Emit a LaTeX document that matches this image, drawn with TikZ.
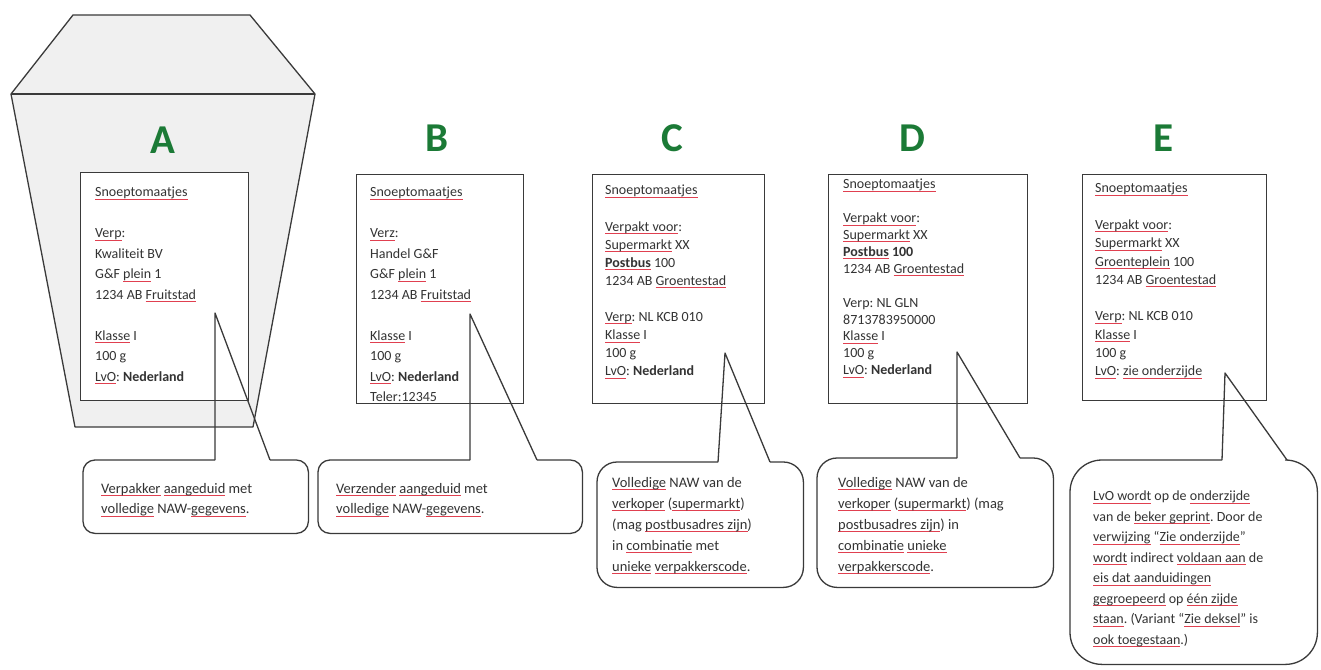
\documentclass[tikz,border=0pt]{standalone}
\usepackage{fontspec}
\setmainfont{Carlito}
\definecolor{ink}{HTML}{3A3A3A}
\definecolor{txt}{HTML}{333333}
\definecolor{cupfill}{HTML}{F0F0F0}
\definecolor{letgreen}{HTML}{1B7A36}
\definecolor{spell}{HTML}{E04050}
\newcommand\redul[1]{\setbox0\hbox{#1}\rlap{\textcolor{spell}{\rule[-2.6pt]{\wd0}{0.7pt}}}\box0\relax}
\frenchspacing
\tikzset{
  labelbox/.style={draw=ink, line width=1.3pt, fill=white, rectangle, inner sep=0pt, anchor=north west},
  letter/.style={text=letgreen, font=\fontsize{41}{41}\selectfont\bfseries, inner sep=0pt},
  boxtext/.style={text=txt, align=left, inner sep=0pt, anchor=north west},
  callfill/.style={fill=white, draw=none, rectangle, inner sep=0pt, anchor=north west},
  callline/.style={draw=ink, line width=1.3pt, line join=round},
  calltext/.style={text=txt, align=left, inner sep=0pt, anchor=north west, font=\fontsize{14.5}{20.5}\selectfont},
}
\begin{document}
\begin{tikzpicture}[x=1pt,y=-1pt]
\useasboundingbox[fill=white] (0,0) rectangle (1321,669);

% ---------- cup A ----------
\coordinate (cupTL) at (73,15);
\coordinate (cupTR) at (250,15);
\coordinate (cupRL) at (11,94);
\coordinate (cupRR) at (315,94);
\coordinate (cupBL) at (75,427);
\coordinate (cupBR) at (253,427);
\filldraw[fill=cupfill, draw=ink, line width=1.3pt, line join=round]
  (cupRL) -- (cupTL) -- (cupTR) -- (cupRR) -- (cupBR) -- (cupBL) -- cycle;
\draw[ink, line width=1.3pt] (cupRL) -- (cupRR);

% ---------- letters ----------
\node[letter] (letA) at (163,140) {A};
\node[letter] (letB) at (437,138) {B};
\node[letter] (letC) at (672,138) {C};
\node[letter] (letD) at (912,138) {D};
\node[letter] (letE) at (1163,138) {E};

% ---------- label boxes ----------
\node[labelbox, minimum width=168pt, minimum height=228pt] (boxA) at (80,172) {};
\node[labelbox, minimum width=167pt, minimum height=229pt] (boxB) at (356,174) {};
\node[labelbox, minimum width=172pt, minimum height=229pt] (boxC) at (592,174) {};
\node[labelbox, minimum width=199pt, minimum height=229pt] (boxD) at (828,174) {};
\node[labelbox, minimum width=184pt, minimum height=226pt] (boxE) at (1082,174) {};

\node[boxtext, font=\fontsize{14}{20.5}\selectfont] (txtA) at (95,187) {%
\redul{Snoeptomaatjes}\\ ~\\ \redul{Verp}:\\ Kwaliteit BV\\ G\&F \redul{plein} 1\\ 1234 AB \redul{Fruitstad}\\ ~\\
\redul{Klasse} I\\ 100 g\\ \redul{LvO}: \textbf{Nederland}};

\node[boxtext, font=\fontsize{14}{20.5}\selectfont] (txtB) at (370,187) {%
\redul{Snoeptomaatjes}\\ ~\\ \redul{Verz}:\\ Handel G\&F\\ G\&F \redul{plein} 1\\ 1234 AB \redul{Fruitstad}\\ ~\\
\redul{Klasse} I\\ 100 g\\ \redul{LvO}: \textbf{Nederland}\\ Teler:12345};

\node[boxtext, font=\fontsize{14}{18.1}\selectfont] (txtC) at (605,185) {%
\redul{Snoeptomaatjes}\\ ~\\ \redul{Verpakt voor}:\\ \redul{Supermarkt} XX\\ \textbf{\redul{Postbus}} 100\\ 1234 AB \redul{Groentestad}\\ ~\\
\redul{Verp}: NL KCB 010\\ \redul{Klasse} I\\ 100 g\\ \redul{LvO}: \textbf{Nederland}};

\node[boxtext, font=\fontsize{14}{16.9}\selectfont] (txtD) at (843,179) {%
\redul{Snoeptomaatjes}\\ ~\\ \redul{Verpakt voor}:\\ \redul{Supermarkt} XX\\ \textbf{\redul{Postbus} 100}\\ 1234 AB \redul{Groentestad}\\ ~\\
Verp: NL GLN\\ 8713783950000\\ \redul{Klasse} I\\ 100 g\\ \redul{LvO}: \textbf{Nederland}};

\node[boxtext, font=\fontsize{14}{18.3}\selectfont] (txtE) at (1095,183) {%
\redul{Snoeptomaatjes}\\ ~\\ \redul{Verpakt voor}:\\ \redul{Supermarkt} XX\\ \redul{Groenteplein} 100\\ 1234 AB \redul{Groentestad}\\ ~\\
\redul{Verp}: NL KCB 010\\ \redul{Klasse} I\\ 100 g\\ \redul{LvO}: \redul{zie onderzijde}};

% ---------- callouts ----------
% A
\coordinate (tipA) at (215,313);
\coordinate (blA) at (215,460);
\coordinate (brA) at (270,460);
\node[callfill, minimum width=225pt, minimum height=73pt] (callA) at (83,460) {};
\draw[callline, rounded corners=12pt] (blA) -- (callA.north west) -- (callA.south west) -- (callA.south east) -- (callA.north east) -- (brA);
\draw[callline] (brA) -- (tipA) -- (blA);
\node[calltext] (ctA) at (101,483) {\redul{Verpakker} \redul{aangeduid} met\\ \redul{volledige} NAW-\redul{gegevens}.};

% B
\coordinate (tipB) at (470,314);
\coordinate (blB) at (470,460);
\coordinate (brB) at (537,460);
\node[callfill, minimum width=264pt, minimum height=73pt] (callB) at (318,460) {};
\draw[callline, rounded corners=12pt] (blB) -- (callB.north west) -- (callB.south west) -- (callB.south east) -- (callB.north east) -- (brB);
\draw[callline] (brB) -- (tipB) -- (blB);
\node[calltext] (ctB) at (336,483) {\redul{Verzender} \redul{aangeduid} met\\ \redul{volledige} NAW-\redul{gegevens}.};

% C
\coordinate (tipC) at (725,353);
\coordinate (blC) at (718,462);
\coordinate (brC) at (770,462);
\node[callfill, minimum width=206pt, minimum height=125pt] (callC) at (597,462) {};
\draw[callline, rounded corners=20pt] (blC) -- (callC.north west) -- (callC.south west) -- (callC.south east) -- (callC.north east) -- (brC);
\draw[callline] (brC) -- (tipC) -- (blC);
\node[calltext, font=\fontsize{14.5}{21}\selectfont] (ctC) at (612,477) {\redul{Volledige} NAW van de\\ \redul{verkoper} (\redul{supermarkt})\\ (mag \redul{postbusadres zijn})\\ in \redul{combinatie} met\\ \redul{unieke} \redul{verpakkerscode}.};

% D
\coordinate (tipD) at (957,352);
\coordinate (blD) at (957,458);
\coordinate (brD) at (1020,458);
\node[callfill, minimum width=236pt, minimum height=129pt] (callD) at (817,458) {};
\draw[callline, rounded corners=20pt] (blD) -- (callD.north west) -- (callD.south west) -- (callD.south east) -- (callD.north east) -- (brD);
\draw[callline] (brD) -- (tipD) -- (blD);
\node[calltext, font=\fontsize{14.5}{21}\selectfont] (ctD) at (838,477) {\redul{Volledige} NAW van de\\ \redul{verkoper} (\redul{supermarkt}) (mag\\ \redul{postbusadres zijn}) in\\ \redul{combinatie} \redul{unieke}\\ \redul{verpakkerscode}.};

% E
\coordinate (tipE) at (1225,373);
\coordinate (blE) at (1222,460);
\coordinate (brE) at (1287,460);
\node[callfill, minimum width=247pt, minimum height=204pt] (callE) at (1070,460) {};
\draw[callline, rounded corners=32pt] (blE) -- (callE.north west) -- (callE.south west) -- (callE.south east) -- (callE.north east) -- (brE);
\draw[callline] (brE) -- (tipE) -- (blE);
\node[calltext, font=\fontsize{14}{20.5}\selectfont] (ctE) at (1093,491) {\redul{LvO wordt} op de \redul{onderzijde}\\ van de \redul{beker geprint}. Door de\\ \redul{verwijzing} ``\redul{Zie onderzijde}''\\ \redul{wordt} indirect \redul{voldaan aan} de\\ \redul{eis dat aanduidingen}\\ \redul{gegroepeerd} op \redul{één zijde}\\ \redul{staan}. (Variant ``\redul{Zie deksel}'' is\\ \redul{ook toegestaan}.)};

\end{tikzpicture}
\end{document}
